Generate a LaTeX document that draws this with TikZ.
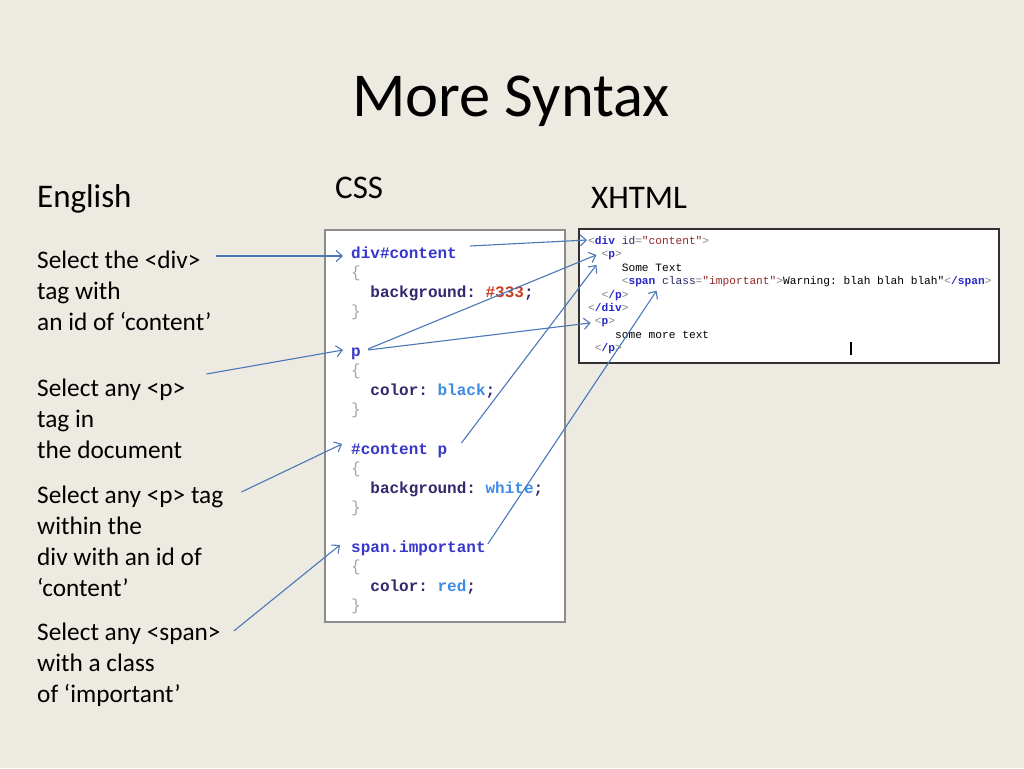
\documentclass[tikz,border=0pt]{standalone}
\usepackage{fontspec}
\setmainfont{Carlito}
\newfontfamily\codefont{Liberation Mono}
\usetikzlibrary{arrows.meta,calc}
\definecolor{bg}{RGB}{237,234,225}
\definecolor{arrowblue}{RGB}{74,120,182}
\definecolor{selc}{RGB}{55,55,205}
\definecolor{prpc}{RGB}{50,40,110}
\definecolor{valc}{RGB}{60,140,230}
\definecolor{redc}{RGB}{200,60,30}
\definecolor{brcc}{RGB}{165,165,165}
\definecolor{tagc}{RGB}{40,40,200}
\definecolor{attc}{RGB}{40,40,100}
\definecolor{avlc}{RGB}{150,40,40}
\definecolor{gryc}{RGB}{130,130,130}
\newcommand{\sel}[1]{\textcolor{selc}{#1}}
\newcommand{\prp}[1]{\textcolor{prpc}{#1}}
\newcommand{\vlu}[1]{\textcolor{valc}{#1}}
\newcommand{\vlr}[1]{\textcolor{redc}{#1}}
\newcommand{\brc}[1]{\textcolor{brcc}{\mdseries #1}}
\newcommand{\tg}[1]{\textcolor{tagc}{\bfseries #1}}
\newcommand{\at}[1]{\textcolor{attc}{#1}}
\newcommand{\av}[1]{\textcolor{avlc}{#1}}
\newcommand{\gy}[1]{\textcolor{gryc}{#1}}
\frenchspacing
\begin{document}
\begin{tikzpicture}[x=1pt,y=-1pt,
  title/.style={anchor=base, inner sep=0, font=\fontsize{62.5}{72}\selectfont},
  hdr/.style={anchor=base west, inner sep=0, font=\fontsize{33}{39}\selectfont},
  eng/.style={anchor=base west, inner sep=0, font=\fontsize{25.3}{30}\selectfont},
  css/.style={anchor=base west, inner sep=0, font=\codefont\bfseries\fontsize{16}{19}\selectfont},
  html/.style={anchor=base west, inner sep=0, font=\codefont\fontsize{11.2}{13}\selectfont},
  arr/.style={draw=arrowblue, line width=1.1pt, -{Straight Barb[length=6pt,width=11pt]}}]
\useasboundingbox[fill=bg] (0,0) rectangle (1024,768);

% titles
\node[title] (ttl) at (511,116) {More Syntax};
\node[hdr] (hen) at (37,207) {English};
\node[hdr] (hcss) at (335,198) {CSS};
\node[hdr] (hxh) at (591,208) {XHTML};

% English texts
\node[eng] (e1) at (37,268) {Select the <div>};
\node[eng] (e1b) at (37,299) {tag with};
\node[eng] (e1c) at (37,330) {an id of ‘content’};
\node[eng] (e2a) at (37,396) {Select any <p>};
\node[eng] (e2b) at (37,427) {tag in};
\node[eng] (e2c) at (37,458) {the document};
\node[eng] (e3a) at (37,503) {Select any <p> tag};
\node[eng] (e3b) at (37,534) {within the};
\node[eng] (e3c) at (37,565) {div with an id of};
\node[eng] (e3d) at (37,596) {‘content’};
\node[eng] (e4a) at (37,640) {Select any <span>};
\node[eng] (e4b) at (37,671) {with a class};
\node[eng] (e4c) at (37,702) {of ‘important’};

% boxes
\node[draw={rgb,255:red,140;green,140;blue,140}, line width=1.2pt, fill=white, minimum width=240pt, minimum height=392pt, inner sep=0] (cssbox) at (445,426) {};
\node[draw={rgb,255:red,50;green,50;blue,50}, line width=1.4pt, fill=white, minimum width=420pt, minimum height=134pt, inner sep=0] (htmlbox) at (789,296) {};

% CSS code
\node[css] (c1) at (351,258) {\sel{div\#content}};
\node[css] (c2) at (351,277.6) {\brc{\{}};
\node[css] (c3) at (370.2,297.2) {\prp{background:} \vlr{\#333}\prp{;}};
\node[css] (c4) at (351,316.8) {\brc{\}}};
\node[css] (c5) at (351,356) {\sel{p}};
\node[css] (c6) at (351,375.6) {\brc{\{}};
\node[css] (c7) at (370.2,395.2) {\prp{color:} \vlu{black}\prp{;}};
\node[css] (c8) at (351,414.8) {\brc{\}}};
\node[css] (c9) at (351,454) {\sel{\#content p}};
\node[css] (c10) at (351,473.6) {\brc{\{}};
\node[css] (c11) at (370.2,493.2) {\prp{background:} \vlu{white}\prp{;}};
\node[css] (c12) at (351,512.8) {\brc{\}}};
\node[css] (c13) at (351,552) {\sel{span.important}};
\node[css] (c14) at (351,571.6) {\brc{\{}};
\node[css] (c15) at (370.2,591.2) {\prp{color:} \vlu{red}\prp{;}};
\node[css] (c16) at (351,610.8) {\brc{\}}};

% XHTML code
\node[html] (x1) at (588,244.5) {\gy{<}\tg{div} \at{id}\gy{=}\av{"content"}\gy{>}};
\node[html] (x2) at (601.4,257.9) {\gy{<}\tg{p}\gy{>}};
\node[html] (x3) at (621.6,271.3) {Some Text};
\node[html] (x4) at (621.6,284.7) {\gy{<}\tg{span} \at{class}\gy{=}\av{"important"}\gy{>}Warning: blah blah blah"\gy{<}\tg{/span}\gy{>}};
\node[html] (x5) at (601.4,298.1) {\gy{<}\tg{/p}\gy{>}};
\node[html] (x6) at (588,311.5) {\gy{<}\tg{/div}\gy{>}};
\node[html] (x7) at (594.7,324.9) {\gy{<}\tg{p}\gy{>}};
\node[html] (x8) at (614.9,338.3) {some more text};
\node[html] (x9) at (594.7,351.7) {\gy{<}\tg{/p}\gy{>}};
\draw[line width=1.6pt] (851,342) -- (851,355);

% arrows English -> CSS
\draw[arr] ($(e1.base east)+(15,-12)$) -- ($(c1.base west)+(-8,-2)$);
\draw[arr] ($(e2a.base east)+(21,-22)$) -- ($(c5.base west)+(-8,-6)$);
\draw[arr] ($(e3a.base east)+(18,-11)$) -- ($(c9.base west)+(-9,-10)$);
\draw[arr] ($(e4a.base east)+(13,-9)$) -- ($(c13.base west)+(-11,-7)$);
% arrows CSS -> XHTML
\draw[arr] ($(c1.base east)+(13,-12)$) -- ($(x1.base west)+(-1,-4.5)$);
\draw[arr] ($(c5.base east)+(7,-7)$) -- ($(x2.base west)+(-5,-3)$);
\draw[arr] ($(c5.base east)+(7,-6)$) -- ($(x7.base west)+(-4,-2)$);
\draw[arr] ($(c9.base east)+(14,-11)$) -- ($(x2.base west)+(-5,7)$);
\draw[arr] ($(c13.base east)+(2,-8)$) -- ($(x4.base west)+(35,6)$);
\end{tikzpicture}
\end{document}
